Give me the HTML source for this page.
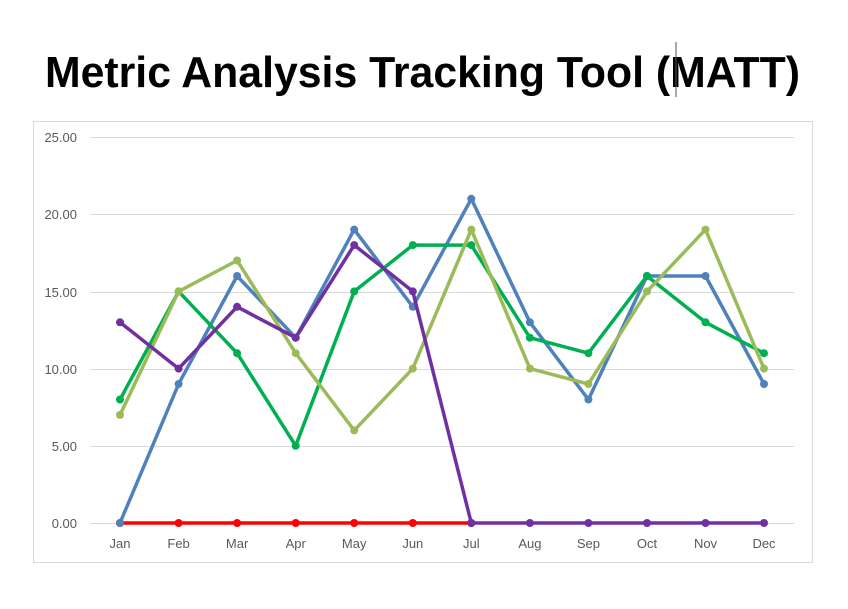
<!DOCTYPE html>
<html><head><meta charset="utf-8"><style>
body{margin:0;background:#fff;width:848px;height:604px;overflow:hidden;font-family:"Liberation Sans",sans-serif}
</style></head><body>
<svg width="848" height="604" xmlns="http://www.w3.org/2000/svg" font-family="Liberation Sans, sans-serif">
<defs>
<marker id="mr" markerUnits="userSpaceOnUse" markerWidth="10" markerHeight="10" refX="5" refY="5"><circle cx="5" cy="5" r="4" fill="#FF0000"/></marker>
<marker id="mb" markerUnits="userSpaceOnUse" markerWidth="10" markerHeight="10" refX="5" refY="5"><circle cx="5" cy="5" r="4" fill="#4F81BD"/></marker>
<marker id="mg" markerUnits="userSpaceOnUse" markerWidth="10" markerHeight="10" refX="5" refY="5"><circle cx="5" cy="5" r="4" fill="#00B050"/></marker>
<marker id="ml" markerUnits="userSpaceOnUse" markerWidth="10" markerHeight="10" refX="5" refY="5"><circle cx="5" cy="5" r="4" fill="#9BBB59"/></marker>
<marker id="mp" markerUnits="userSpaceOnUse" markerWidth="10" markerHeight="10" refX="5" refY="5"><circle cx="5" cy="5" r="4" fill="#7030A0"/></marker>
</defs>
<text x="45" y="87" textLength="755" lengthAdjust="spacingAndGlyphs" font-size="44" font-weight="bold" fill="#000">Metric Analysis Tracking Tool (MATT)</text>
<line x1="676" y1="42" x2="676" y2="97" stroke="#555" stroke-width="1"/>
<rect x="33.5" y="121.5" width="779" height="441" fill="#fff" stroke="#d9d9d9"/>
<g stroke="#d9d9d9" stroke-width="1">
<line x1="90" x2="794" y1="137.5" y2="137.5"/>
<line x1="90" x2="794" y1="214.5" y2="214.5"/>
<line x1="90" x2="794" y1="292.5" y2="292.5"/>
<line x1="90" x2="794" y1="369.5" y2="369.5"/>
<line x1="90" x2="794" y1="446.5" y2="446.5"/>
<line x1="90" x2="794" y1="523.5" y2="523.5"/>
</g>
<g font-size="13" fill="#595959" text-anchor="end">
<text x="77" y="142">25.00</text><text x="77" y="219">20.00</text><text x="77" y="297">15.00</text>
<text x="77" y="374">10.00</text><text x="77" y="451">5.00</text><text x="77" y="528">0.00</text>
</g>
<g font-size="13" fill="#595959" text-anchor="middle">
<text x="120" y="548">Jan</text><text x="178.6" y="548">Feb</text><text x="237.1" y="548">Mar</text><text x="295.7" y="548">Apr</text>
<text x="354.2" y="548">May</text><text x="412.8" y="548">Jun</text><text x="471.3" y="548">Jul</text><text x="529.9" y="548">Aug</text>
<text x="588.4" y="548">Sep</text><text x="647" y="548">Oct</text><text x="705.5" y="548">Nov</text><text x="764" y="548">Dec</text>
</g>
<g fill="none" stroke-width="3.5" stroke-linejoin="round">
<polyline stroke="#FF0000" marker-start="url(#mr)" marker-mid="url(#mr)" marker-end="url(#mr)" points="120,523 178.6,523 237.1,523 295.7,523 354.2,523 412.8,523 471.3,523"/>
<polyline stroke="#4F81BD" marker-start="url(#mb)" marker-mid="url(#mb)" marker-end="url(#mb)" points="120,523 178.6,384 237.1,276 295.7,337.7 354.2,229.6 412.8,306.8 471.3,198.8 529.9,322.3 588.4,399.5 647,276 705.5,276 764,384"/>
<polyline stroke="#00B050" marker-start="url(#mg)" marker-mid="url(#mg)" marker-end="url(#mg)" points="120,399.5 178.6,291.4 237.1,353.2 295.7,445.8 354.2,291.4 412.8,245.1 471.3,245.1 529.9,337.7 588.4,353.2 647,276 705.5,322.3 764,353.2"/>
<polyline stroke="#9BBB59" marker-start="url(#ml)" marker-mid="url(#ml)" marker-end="url(#ml)" points="120,414.9 178.6,291.4 237.1,260.5 295.7,353.2 354.2,430.4 412.8,368.6 471.3,229.6 529.9,368.6 588.4,384 647,291.4 705.5,229.6 764,368.6"/>
<polyline stroke="#7030A0" marker-start="url(#mp)" marker-mid="url(#mp)" marker-end="url(#mp)" points="120,322.3 178.6,368.6 237.1,306.8 295.7,337.7 354.2,245.1 412.8,291.4 471.3,523 529.9,523 588.4,523 647,523 705.5,523 764,523"/>
</g>
</svg>
</body></html>
